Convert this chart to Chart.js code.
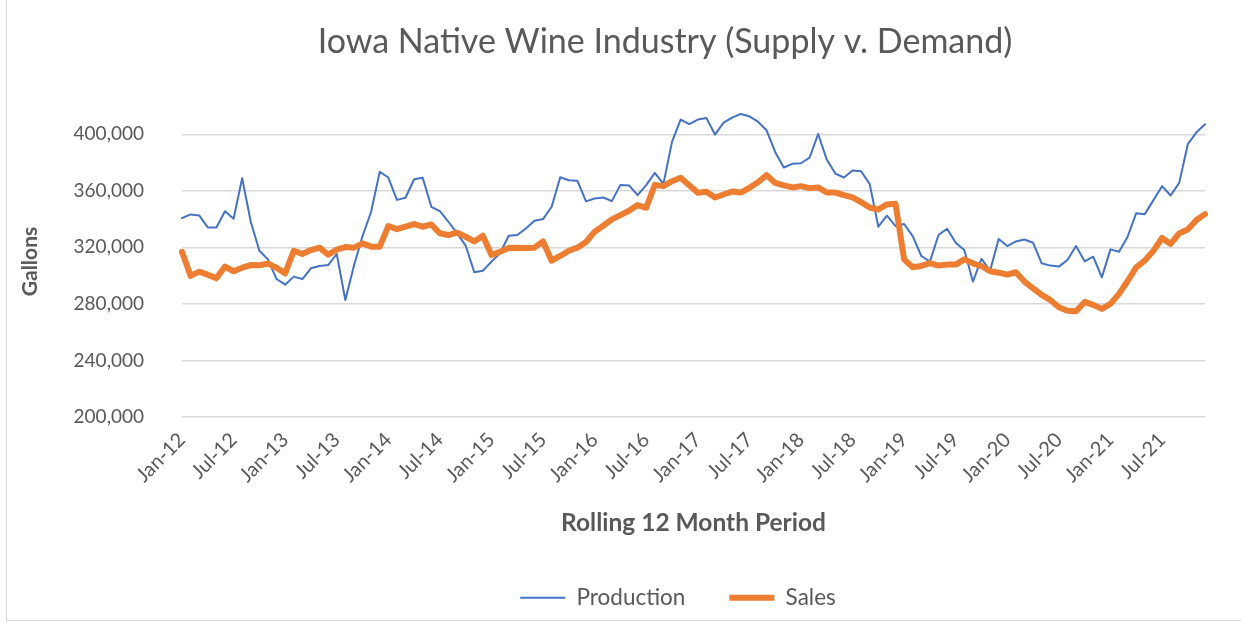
<!DOCTYPE html>
<html><head><meta charset="utf-8">
<script src="https://cdn.jsdelivr.net/npm/chart.js@4/dist/chart.umd.min.js"></script>
<style>
html,body{margin:0;padding:0;background:#fff;overflow:hidden;width:1241px;height:629px;}
#wrap{position:absolute;left:6px;top:-1px;width:1316px;height:620px;border:1px solid #d9d9d9;background:#fff;}
canvas{display:block;}
</style></head><body>
<div id="wrap"><canvas id="c" width="1316" height="620"></canvas></div>
<script>
const categories = [
'Jan-12','Feb-12','Mar-12','Apr-12','May-12','Jun-12','Jul-12','Aug-12','Sep-12','Oct-12','Nov-12','Dec-12',
'Jan-13','Feb-13','Mar-13','Apr-13','May-13','Jun-13','Jul-13','Aug-13','Sep-13','Oct-13','Nov-13','Dec-13',
'Jan-14','Feb-14','Mar-14','Apr-14','May-14','Jun-14','Jul-14','Aug-14','Sep-14','Oct-14','Nov-14','Dec-14',
'Jan-15','Feb-15','Mar-15','Apr-15','May-15','Jun-15','Jul-15','Aug-15','Sep-15','Oct-15','Nov-15','Dec-15',
'Jan-16','Feb-16','Mar-16','Apr-16','May-16','Jun-16','Jul-16','Aug-16','Sep-16','Oct-16','Nov-16','Dec-16',
'Jan-17','Feb-17','Mar-17','Apr-17','May-17','Jun-17','Jul-17','Aug-17','Sep-17','Oct-17','Nov-17','Dec-17',
'Jan-18','Feb-18','Mar-18','Apr-18','May-18','Jun-18','Jul-18','Aug-18','Sep-18','Oct-18','Nov-18','Dec-18',
'Jan-19','Feb-19','Mar-19','Apr-19','May-19','Jun-19','Jul-19','Aug-19','Sep-19','Oct-19','Nov-19','Dec-19',
'Jan-20','Feb-20','Mar-20','Apr-20','May-20','Jun-20','Jul-20','Aug-20','Sep-20','Oct-20','Nov-20','Dec-20',
'Jan-21','Feb-21','Mar-21','Apr-21','May-21','Jun-21','Jul-21','Aug-21','Sep-21','Oct-21','Nov-21','Dec-21'
];
const production = [
340700,343300,342600,334100,334000,345600,340200,368900,338100,317600,
311500,297600,293600,299300,297600,305200,306800,307500,315300,282800,
307000,328000,345200,373400,369400,353600,355100,368200,369200,348700,
345600,338100,329900,321200,302400,303500,309900,315800,328200,328700,
333400,338800,340000,348700,369600,367500,367100,352500,354600,355300,
352700,364200,363800,356900,364000,372700,364900,394600,410400,407100,
410400,411500,399800,408200,411800,414400,412700,408900,402800,387500,
376500,379100,379500,383500,400200,382100,372200,369400,374400,373800,
364700,334600,342400,335100,336500,328000,313900,309900,328700,333200,
323300,318100,295800,311800,303500,325900,320900,324200,325600,323300,
308700,307100,306400,311100,320900,310100,313400,298800,318600,316900,
327500,344200,343500,353400,363300,356700,365600,393000,401400,407100
];
const sales = [
316900,299800,302800,300700,298100,306400,303100,305600,307500,307300,
308500,305600,301600,317600,315300,318100,319800,314800,318400,320200,
319800,322800,320500,320500,335100,332900,334600,336500,334600,336200,
329900,328700,330400,327500,324200,328200,314600,316900,319500,319800,
319500,319800,324200,310600,313900,317600,319800,323800,331100,335300,
339800,342800,345900,349900,348000,364200,363300,366800,369200,364000,
358600,359300,355300,357400,359500,358800,362100,366100,371100,365600,
363800,362400,363300,361900,362400,358800,358800,356900,355300,352000,
348200,346800,350400,350800,311500,305900,306800,308900,307100,307800,
307800,311500,308700,306800,303100,302100,300700,302400,295800,291000,
286400,282800,277600,275100,274800,281400,279300,276500,280000,287100,
296200,305900,310600,317600,326600,322400,329900,332700,339300,343500
];
const xTickLabels = ['Jan-12','Jul-12','Jan-13','Jul-13','Jan-14','Jul-14','Jan-15','Jul-15','Jan-16','Jul-16',
'Jan-17','Jul-17','Jan-18','Jul-18','Jan-19','Jul-19','Jan-20','Jul-20','Jan-21','Jul-21'];
const yTicks = [200000,240000,280000,320000,360000,400000];
const yMin = 200000, yMax = 420000;

const FONT = 'Lato';
const GREY = '#595959';

const legendShift = {
  id:'legendShift',
  afterLayout(chart){ if(chart.legend){ chart.legend.left += 13; chart.legend.right += 13; } }
};

new Chart(document.getElementById('c'), {
  type: 'line',
  data: {
    labels: categories,
    datasets: [
      {label:'Production', data: production, borderColor:'#4472C4', backgroundColor:'#4472C4',
       borderWidth:2, pointRadius:0, tension:0, borderJoinStyle:'round', borderCapStyle:'round', order:1},
      {label:'Sales', data: sales, borderColor:'#ED7D31', backgroundColor:'#ED7D31',
       borderWidth:6, pointRadius:0, tension:0, borderJoinStyle:'round', borderCapStyle:'round', order:0}
    ]
  },
  plugins:[legendShift],
  options: {
    responsive:false, animation:false, devicePixelRatio:1,
    layout:{padding:{left:0,right:0,top:0,bottom:1}},
    plugins:{
      tooltip:{enabled:false},
      title:{display:true, text:'Iowa Native Wine Industry (Supply v. Demand)', color:GREY,
        font:{family:FONT,size:34,weight:'normal'}, padding:{top:21.6,bottom:43.6}},
      legend:{display:true, position:'bottom',
        labels:{usePointStyle:true, pointStyle:'line', pointStyleWidth:45, color:GREY,
          font:{family:FONT,size:22.5}, padding:44,
          sort:(a,b)=>a.datasetIndex-b.datasetIndex}}
    },
    scales:{
      x:{
        grid:{display:false}, border:{display:false},
        ticks:{autoSkip:false, maxRotation:45, minRotation:45, color:GREY, font:{family:FONT,size:20}, padding:3,
          callback:function(v,i){const l=categories[i]; return xTickLabels.includes(l)?l:'';}},
        title:{display:true, text:'Rolling 12 Month Period', color:GREY, font:{family:FONT,size:24.5,weight:'bold'}, padding:{top:0,bottom:5}},
        afterFit:function(s){s.height=125.5;}
      },
      y:{
        min:yMin, max:yMax,
        grid:{color:'#d9d9d9', lineWidth:1.5, drawTicks:false}, border:{display:false},
        ticks:{color:GREY, font:{family:FONT,size:19}, padding:38},
        afterBuildTicks:function(s){s.ticks=yTicks.map(v=>({value:v}));},
        title:{display:true, text:'Gallons', color:GREY, font:{family:FONT,size:21,weight:'bold'}, padding:{top:11,bottom:0}},
        afterFit:function(s){s.width=175;}
      },
      yRight:{
        type:'linear', position:'right', display:true,
        grid:{display:false}, border:{display:false}, ticks:{display:false},
        afterFit:function(s){s.width=118;}
      }
    }
  }
});
</script>
</body></html>
